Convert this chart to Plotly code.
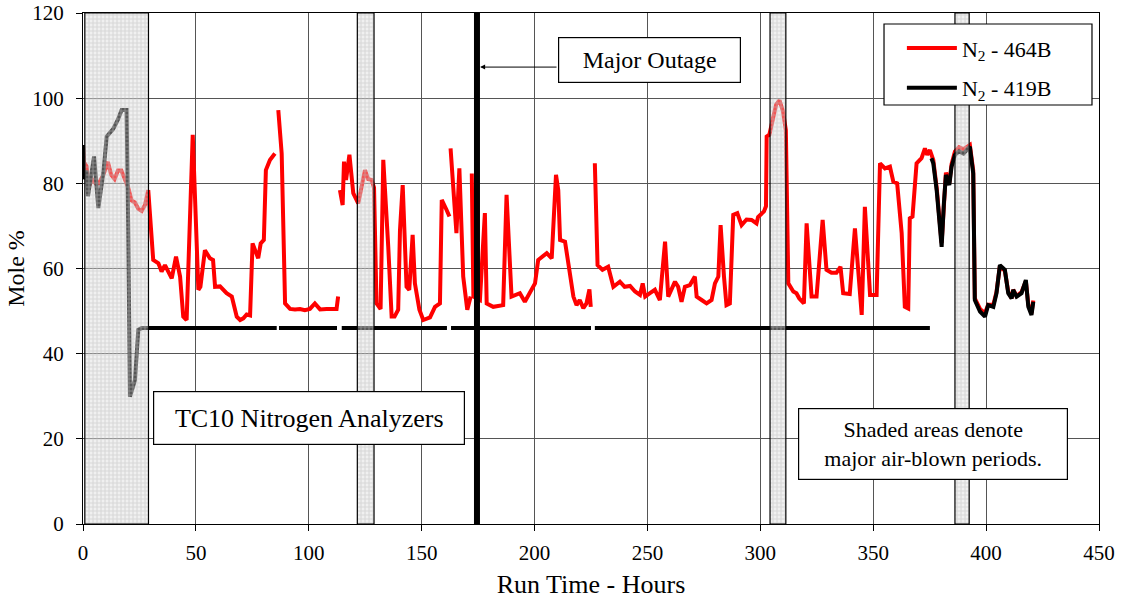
import plotly.graph_objects as go

# ---- N2 analyzer 464B (red), hours vs mole % ; None marks data gaps ----
red_hours = [0, 0.4, 1.6, 2.5, 4, 5.5, 7, 9, 11, 12.5, 14, 15.5, 17, 18.5, 20, 21.5, 23, 24.5, 26, 27.5,
             28.9, 31.1, 33.4, 34.8, 36.3, 39.3, 41.2, 43, 44.4, 45.9, 48.6, 51.1, 52, 54, 56.2, 57.6,
             58.5, 60.7, 63.6, 65.9, 68.1, 69.6, 71, 72.5, 74, 75.1, 77.6, 78.7, 80.1, 81, 82.8, 85,
             None,
             86.5, 88, 89.5, 91.7, 93.9, 96.1, 98.3, 100.5, 102.7, 105, 107.9, 112.3, 113,
             None,
             113.8, 115, 115.6, 116.5, 118, 119.7, 121.9, 123.5, 124.9, 126.3, 127.8, 128.9, 130, 131.8,
             133, 135.2, 136.7, 138, 139.6, 140.4, 141.6, 143.3, 144.5, 146, 147, 149, 150.7, 153.7,
             155.9, 158.1, 158.9, 161, 162.3,
             None,
             162.8, 165.4, 166.7, 168.4, 170.2, 171.7,
             None,
             172.2, 172.9, 175.8, 178, 178.8, 181.7, 186.1, 187.6, 189.8, 193.5, 195.7, 198, 200.2,
             201.6, 203.9, 205.4, 207.6, 209.5, 210.5, 211.3, 213.5, 215.7, 217.2, 218.6, 220, 221.6,
             223, 224.3, 224.9,
             None,
             226.7, 227.9, 230.1, 232.6, 234.9, 237.8, 239.9, 242.3, 244.5, 246.7, 247.9, 249, 251.1,
             253.3, 255.5, 257.8, 259.2, 262.2, 263.6, 265.1, 266.6, 268.8, 271, 271.8, 274, 276.2,
             278.4, 279.9, 281.4, 282.4, 283.9, 285, 286.5, 288, 289.8, 291.7, 293.9, 296.1, 298.3,
             299, 301.6, 302.5, 302.8, 304, 305.5, 307, 308.5, 310, 311.3, 312.4, 314.6, 316, 317.2,
             319.3, 320.5, 322.7, 324.9, 327.6, 329.3, 331.5, 333.7, 335.5, 336.7, 339.6, 341.9, 344.9,
             346.3, 348.6, 351.5, 353, 355.2, 357.4, 358.9, 360.6, 362.6, 364, 365.5, 366.2, 367.4,
             369.2, 371.4, 372.9, 373.9, 375.1, 376.6, 378.1, 380.3, 381.3, 382.2, 383.7, 384.7, 386.2,
             388, 390, 392.8, 394.3, 395, 397.3, 399.5, 400.9, 403.2, 404.6, 406.1, 408.3, 409.8,
             411.3, 412, 413.5, 415.7, 417.6, 418.7, 420.1, 420.9]
red_mole = [89, 85, 84, 79, 81, 80, 80, 82, 85, 82, 81, 83, 83, 81, 79, 76, 75.5, 74, 73.5, 75,
            78.4, 62, 61.2, 59.3, 60.8, 57.7, 62.8, 58.1, 48.7, 47.9, 91.4, 55, 55.7, 64.3, 62.4, 62,
            55.7, 55.8, 54.2, 53.4, 48.7, 47.9, 48.3, 49.2, 49, 65.9, 62.4, 65.9, 66.7, 83.1, 85.5, 87,
            None,
            97.2, 87, 51.8, 50.5, 50.4, 50.5, 50.2, 50.5, 51.8, 50.4, 50.5, 50.5, 53.4,
            None,
            78.4, 74.9, 85.1, 80.8, 86.7, 77.7, 75.3, 80, 83.1, 81, 80.8, 79, 51.8, 50.5,
            85.5, 65.1, 48.7, 48.7, 50.3, 69, 79.6, 55.7, 55, 67.9, 56.5, 50.3, 47.9, 48.5,
            51, 51.8, 76.1, 73.8, 72.2,
            None,
            88.2, 68.3, 83.5, 58.1, 50.3, 53.4,
            None,
            82.3, 53.4, 52.6, 73, 51.8, 51, 51.4, 77.3, 53.4, 54.2, 52.2, 54.2, 56.5,
            62, 62.8, 63.6, 62.4, 82, 78.4, 66.7, 66.3, 58.9, 53.4, 51.4, 52.6, 50.7,
            51.8, 55.1, 51,
            None,
            84.7, 60.8, 59.7, 60.4, 55.7, 56.9, 55.7, 55.9, 54.6, 53.8, 56.5, 53.4, 54.2,
            55, 52.6, 66.3, 53.4, 56.9, 55.7, 52.2, 55.7, 56.1, 58.1, 53.4, 52.6, 51.8,
            52.6, 56.5, 58.1, 70.2, 58.1, 51.4, 51.8, 72.6, 73, 70.2, 71.5, 71.4, 70.6,
            72.1, 73.4, 74.6, 91, 91.4, 95, 98.5, 99.5, 97, 92.5, 56.5, 54.6, 54.2, 53,
            51.8, 70.6, 53.4, 53.4, 71.4, 59.7, 59, 59, 60.4, 54.2, 54, 69.4, 49.1,
            74.5, 53.8, 53.8, 84.7, 83.5, 83.9, 80.4, 80, 68.3, 51, 50.6, 71.8, 72.2,
            84.7, 85.9, 88.2, 86.7, 87.8, 85.5, 79, 66, 76, 82.5, 80, 84.5, 87.5,
            88.5, 88, 89, 83, 53, 50.5, 49.5, 51.5, 51.5, 54.5, 60.5, 59.5, 54.5,
            53, 55, 53.5, 54.5, 57, 51.5, 49.5, 52.5]

# ---- N2 analyzer 419B (black) ----
black_hours = [0, 0.3, 1.6, 2.2, 4.9, 6.8, 9, 10.5, 13.4, 15.5, 17.1, 19.3, 20, 20.8, 23, 24.5, 26,
               28.2, 85.8, None, 86.8, 112.5, None, 114.6, 161.2, None, 163, 225, None, 226.7, 375.1,
               None,
               375.8, 376.6, 378.1, 380.3, 381.3, 382.2, 383.7, 384.7, 386.2, 388, 390, 392.8, 394.3,
               395, 397.3, 399.5, 400.9, 403.2, 404.6, 406.1, 408.3, 409.8, 411.3, 412, 413.5, 415.7,
               417.6, 418.7, 420.1, 420.9]
black_mole = [89, 81, 83, 77, 86.3, 74.2, 82.4, 91, 92.8, 95, 97.2, 97.2, 70.7, 29.9, 33.8, 45.6, 46,
              46, 46, None, 46, 46, None, 46, 46, None, 46, 46, None, 46, 46,
              None,
              85.9, 84.7, 78.4, 65.1, 75.3, 82, 79.6, 83.9, 86.7, 87.5, 87, 88.6, 82.3,
              52.6, 49.9, 48.7, 51.4, 51, 54.2, 60.8, 59.7, 54.2, 53, 55, 53.4, 54.2,
              57.3, 51, 49.1, 52.2]

# major air-blown periods (start, end) in hours
air_blown = [(0.8, 29.0), (121.5, 128.9), (304.3, 311.3), (386.2, 392.5)]
outage_hour = 174.5

SERIF = "Liberation Serif"

fig = go.Figure()

fig.add_trace(go.Scatter(
    x=red_hours, y=red_mole, mode="lines", name="N<sub>2</sub> - 464B",
    line=dict(color="#ff0000", width=4), connectgaps=False, legendgroup="a"))
fig.add_trace(go.Scatter(
    x=black_hours, y=black_mole, mode="lines", name="N<sub>2</sub> - 419B",
    line=dict(color="#000000", width=4), connectgaps=False, legendgroup="b"))

# shaded air-blown periods drawn over the data
for x0, x1 in air_blown:
    fig.add_trace(go.Scatter(
        x=[x0, x1, x1, x0, x0], y=[0, 0, 120, 120, 0], mode="lines",
        fill="toself", fillcolor="rgba(218,218,218,0.4)",
        fillpattern=dict(shape="+", fgcolor="rgba(190,190,190,1)", size=4, solidity=0.45,
                         fillmode="overlay"),
        line=dict(color="#000000", width=1.2), showlegend=False, hoverinfo="skip"))

# major outage marker
fig.add_shape(type="line", xref="x", yref="y", x0=outage_hour, x1=outage_hour, y0=0, y1=120,
              line=dict(color="#000000", width=6), layer="above")

# legend frame
fig.add_shape(type="rect", xref="paper", yref="paper", x0=0.7884, x1=0.9931, y0=0.820, y1=0.9785,
              line=dict(color="#000000", width=1.2), fillcolor="#ffffff", layer="above")

fig.add_annotation(x=100.1, y=24.8, xref="x", yref="y", text="TC10 Nitrogen Analyzers",
                   showarrow=False, font=dict(family=SERIF, size=26, color="#000"),
                   bgcolor="#ffffff", bordercolor="#000000", borderwidth=1.2, borderpad=4,
                   width=302, height=44)
fig.add_annotation(x=250.9, y=108.85, xref="x", yref="y", text="Major Outage",
                   showarrow=False, font=dict(family=SERIF, size=24, color="#000"),
                   bgcolor="#ffffff", bordercolor="#000000", borderwidth=1.2, borderpad=4,
                   width=173, height=36)
fig.add_annotation(x=175.9, y=107.3, xref="x", yref="y", ax=210.4, ay=107.3, axref="x", ayref="y",
                   text="", showarrow=True, arrowhead=2, arrowsize=1, arrowwidth=1,
                   arrowcolor="#000000")
fig.add_annotation(x=376.4, y=18.8, xref="x", yref="y",
                   text="Shaded areas denote<br>major air-blown periods.",
                   showarrow=False, font=dict(family=SERIF, size=22, color="#000"),
                   bgcolor="#ffffff", bordercolor="#000000", borderwidth=1.2, borderpad=4,
                   width=260, height=62)

axis_common = dict(showline=True, linecolor="#000000", linewidth=1.2, mirror=True,
                   ticks="outside", ticklen=6, tickcolor="#000000", tickwidth=1,
                   showgrid=True, gridcolor="#555555", gridwidth=1, zeroline=False,
                   automargin=False,
                   tickfont=dict(family=SERIF, size=21, color="#000"))

fig.update_xaxes(range=[0, 450], dtick=50, tick0=0, ticklabelstandoff=4,
                 title=dict(text="Run Time - Hours", font=dict(family=SERIF, size=26, color="#000"),
                            standoff=10),
                 **axis_common)
fig.update_yaxes(range=[0, 120], dtick=20, tick0=0, ticklabelstandoff=8,
                 title=dict(text="Mole %", font=dict(family=SERIF, size=24, color="#000"),
                            standoff=0),
                 **axis_common)

fig.update_layout(
    width=1135, height=604,
    margin=dict(l=83, r=36, t=13, b=80),
    paper_bgcolor="#ffffff", plot_bgcolor="#ffffff",
    showlegend=True,
    legend=dict(x=0.806, y=0.972, xanchor="left", yanchor="top",
                bgcolor="rgba(0,0,0,0)", borderwidth=0,
                font=dict(family=SERIF, size=22, color="#000"),
                traceorder="grouped", tracegroupgap=8, itemwidth=50),
)

fig.write_html("out.html")
